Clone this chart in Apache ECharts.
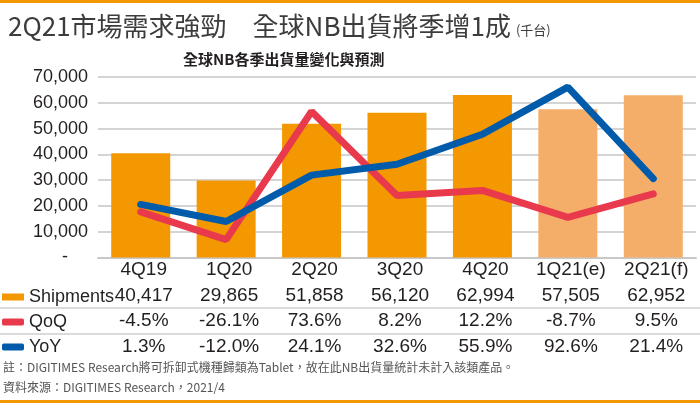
<!DOCTYPE html>
<html>
<head>
<meta charset="utf-8">
<script src="https://cdn.jsdelivr.net/npm/echarts@6/dist/echarts.min.js"></script>
<style>
  html, body { margin: 0; padding: 0; background: #fff; }
  #chart { width: 700px; height: 403px; }
</style>
</head>
<body>
<div id="chart"></div>
<script>
// 資料
var quarters = ['4Q19', '1Q20', '2Q20', '3Q20', '4Q20', '1Q21(e)', '2Q21(f)'];
var shipments = [40417, 29865, 51858, 56120, 62994, 57505, 62952];
var qoq = [-4.5, -26.1, 73.6, 8.2, 12.2, -8.7, 9.5];
var yoy = [1.3, -12.0, 24.1, 32.6, 55.9, 92.6, 21.4];
var forecastFrom = 5; // 1Q21(e) 之後為預測

var FONT = '"Liberation Sans", "Noto Sans CJK TC", sans-serif';
var CJK = '"Noto Sans CJK TC", "Liberation Sans", sans-serif';
var ORANGE = '#F39800', LIGHT = '#F5AE6A', RED = '#E83A4C', BLUE = '#005BAA';

function fmt(n) { return n.toLocaleString('en-US'); }
function pct(v) { return (v < 0 ? '-' : '') + Math.abs(v).toFixed(1) + '%'; }

var myChart = echarts.init(document.getElementById('chart'));

var option = {
    animation: false,
    title: {
        left: 3, top: 8,
        text: '{a|2Q21市場需求強勁　全球NB出貨將季增1成} {b|(千台)}',
        textStyle: {
            fontWeight: 'normal',
            rich: {
                a: { fontFamily: CJK, fontSize: 26, fontWeight: 'normal', color: '#3c3c3c' },
                b: { fontFamily: CJK, fontSize: 13, fontWeight: 'normal', color: '#3c3c3c', padding: [8, 0, 0, 0] }
            }
        }
    },
    graphic: [
        { type: 'rect', shape: { x: 0, y: 0, width: 700, height: 3 }, style: { fill: ORANGE } },
        { type: 'rect', shape: { x: 0, y: 400, width: 700, height: 3 }, style: { fill: ORANGE } },
        { type: 'text', left: 183, top: 52,
          style: { text: '全球NB各季出貨量變化與預測', font: 'bold 15px ' + CJK, fill: '#231f20' } },
        { type: 'line', shape: { x1: 0, y1: 308, x2: 700, y2: 308 }, style: { stroke: '#cfcfcf', lineWidth: 1.5 } },
        { type: 'line', shape: { x1: 0, y1: 334, x2: 700, y2: 334 }, style: { stroke: '#cfcfcf', lineWidth: 1.5 } },
        { type: 'text', left: 3, top: 361,
          style: { text: '註：DIGITIMES Research將可拆卸式機種歸類為Tablet，故在此NB出貨量統計未計入該類產品。',
                   font: '12px ' + CJK, fill: '#555' } },
        { type: 'text', left: 3, top: 381,
          style: { text: '資料來源：DIGITIMES Research，2021/4', font: '12px ' + CJK, fill: '#555' } }
    ],
    legend: {
        orient: 'vertical',
        left: 2, top: 287,
        padding: 0,
        itemWidth: 22, itemHeight: 7,
        itemGap: 5,
        textStyle: { fontFamily: FONT, fontSize: 18, color: '#231f20', lineHeight: 20 },
        data: [
            { name: 'Shipments', icon: 'rect', itemStyle: { color: ORANGE } },
            { name: 'QoQ', icon: 'roundRect' },
            { name: 'YoY', icon: 'roundRect' }
        ]
    },
    grid: { left: 98, right: 4, top: 77, bottom: 145.5 },
    xAxis: {
        type: 'category',
        data: quarters,
        axisTick: { show: false },
        axisLine: { lineStyle: { color: '#c8c8c8', width: 2 } },
        axisLabel: {
            margin: 0,
            interval: 0,
            padding: [0, 0, 0, 6],
            fontFamily: FONT, fontSize: 19, color: '#231f20', lineHeight: 25.5,
            formatter: function (v, i) {
                return v + '\n' + fmt(shipments[i]) + '\n' + pct(qoq[i]) + '\n' + pct(yoy[i]);
            }
        }
    },
    yAxis: [
        {
            type: 'value', min: 0, max: 70000, interval: 10000,
            axisLine: { show: false }, axisTick: { show: false },
            splitLine: { lineStyle: { color: '#d4d4d4', width: 2 } },
            axisLabel: {
                margin: 10,
                fontFamily: FONT, fontSize: 18, color: '#231f20',
                formatter: function (v) { return v === 0 ? '{z|-}' : fmt(v); },
                rich: { z: { fontFamily: FONT, fontSize: 18, color: '#231f20', padding: [0, 20, 0, 0] } }
            }
        },
        {
            type: 'value', min: -40, max: 100.5, show: false,
            splitLine: { show: false }
        }
    ],
    series: [
        {
            name: 'Shipments', type: 'bar', barWidth: 59,
            data: shipments,
            itemStyle: {
                color: function (p) { return p.dataIndex >= forecastFrom ? LIGHT : ORANGE; }
            }
        },
        {
            name: 'QoQ', type: 'line', yAxisIndex: 1, data: qoq,
            showSymbol: false, symbol: 'none',
            lineStyle: { color: RED, width: 7, cap: 'round' },
            itemStyle: { color: RED }, z: 3
        },
        {
            name: 'YoY', type: 'line', yAxisIndex: 1, data: yoy,
            showSymbol: false, symbol: 'none',
            lineStyle: { color: BLUE, width: 7, cap: 'round' },
            itemStyle: { color: BLUE }, z: 4
        }
    ]
};

myChart.setOption(option);
</script>
</body>
</html>
